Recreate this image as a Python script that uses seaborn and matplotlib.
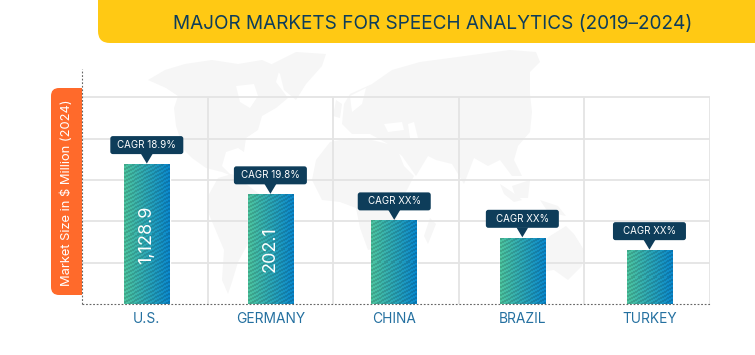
import numpy as np
import matplotlib
matplotlib.use('Agg')
import matplotlib.pyplot as plt
import matplotlib.transforms as mtrans
from matplotlib.patches import FancyBboxPatch, Polygon, Rectangle
from matplotlib.colors import LinearSegmentedColormap
import seaborn as sns

categories = ['U.S.', 'GERMANY', 'CHINA', 'BRAZIL', 'TURKEY']
bar_heights = [1128.9, 884, 673, 532, 432]
value_labels = ['1,128.9', '202.1', '', '', '']
cagr_labels = ['CAGR 18.9%', 'CAGR 19.8%', 'CAGR XX%', 'CAGR XX%', 'CAGR XX%']
grid_values = [335, 670, 1005, 1340, 1675]
grid_x = [0.5, 1.5, 2.5, 3.5, 4.5]
bar_nudge = [0.016, 0.0, -0.014, 0.006, 0.018]

title = 'MAJOR MARKETS FOR SPEECH ANALYTICS (2019–2024)'
ylabel = 'Market Size in $ Million (2024)'

navy = '#0e3d5a'
grid_col = '#e4e4e4'
map_col = '#f6f6f6'

# rough world map behind the chart, in pixels of the picture
land = [
    [(148, 80), (165, 70), (185, 64), (212, 60), (238, 64), (262, 60), (280, 68), (276, 82), (288, 98), (276, 108),
     (262, 116), (258, 130), (246, 138), (244, 152), (238, 148), (226, 152), (222, 166), (232, 176), (222, 172),
     (206, 168), (192, 158), (184, 150), (176, 126), (174, 108), (178, 96), (166, 88)],
    [(218, 178), (232, 174), (246, 184), (262, 196), (262, 214), (250, 240), (238, 262), (232, 282), (228, 294),
     (222, 280), (224, 250), (208, 212), (208, 196)],
    [(272, 64), (296, 52), (326, 54), (322, 66), (306, 84), (296, 100), (284, 90), (280, 74)],
    [(344, 104), (350, 94), (372, 84), (392, 70), (420, 62), (450, 58), (480, 54), (510, 50), (536, 52), (540, 62),
     (530, 72), (530, 94), (532, 112), (530, 132), (518, 146), (514, 160), (522, 176), (512, 176), (500, 160),
     (488, 166), (474, 158), (464, 184), (452, 164), (436, 160), (428, 156), (416, 176), (402, 156), (388, 144),
     (370, 134), (352, 134), (342, 124)],
    [(330, 142), (350, 138), (372, 140), (396, 146), (404, 166), (414, 176), (402, 200), (394, 226), (382, 246),
     (368, 250), (360, 228), (356, 208), (340, 202), (322, 200), (312, 180), (316, 160)],
    [(538, 246), (550, 236), (566, 226), (574, 234), (584, 250), (582, 266), (568, 280), (554, 270), (540, 272)],
    [(500, 184), (512, 192), (522, 200), (514, 202), (504, 194)],
    [(512, 186), (530, 180), (528, 198), (516, 198)],
    [(540, 200), (558, 206), (566, 216), (548, 212)],
    [(430, 218), (436, 224), (428, 244), (424, 236)],
    [(336, 100), (342, 104), (340, 118), (333, 116)],
]
# bays and inland seas cut out of the land
water = [
    [(236, 86), (254, 84), (258, 96), (250, 108), (240, 102)],
    [(384, 124), (402, 122), (404, 130), (388, 132)],
    [(408, 124), (414, 122), (418, 138), (410, 138)],
    [(350, 96), (366, 88), (362, 104), (352, 112)],
]

sns.set_theme(style='white')
plt.rcParams['font.family'] = ['Inter', 'DejaVu Sans']

fig = plt.figure(figsize=(7.55, 3.55), dpi=100)

# full picture layer for the map and the coloured shapes
bg = fig.add_axes([0, 0, 1, 1], zorder=0)
bg.set_xlim(0, 755)
bg.set_ylim(355, 0)
bg.axis('off')
for pts in land:
    bg.add_patch(Polygon(pts, closed=True, fc=map_col, ec='none'))
for pts in water:
    bg.add_patch(Polygon(pts, closed=True, fc='white', ec='none'))

bg.add_patch(FancyBboxPatch((110, -20), 700, 51, boxstyle='round,pad=12,rounding_size=12', fc='#ffc914', ec='none'))
bg.text(432.5, 24, title, color=navy, fontsize=13.7, ha='center', va='center')

orange = FancyBboxPatch((59, 96), 40, 191, boxstyle='round,pad=8,rounding_size=8', fc='#ff6a2b', ec='none')
bg.add_patch(orange)
orange.set_clip_path(Rectangle((51, 80), 31, 225, transform=bg.transData))
bg.text(66.5, 192.5, ylabel, color='white', fontsize=9.3, rotation=90, ha='center', va='center')

# chart
ax = fig.add_axes([82 / 755, 1 - 304 / 355, 628 / 755, 235 / 355], zorder=1)
ax.patch.set_alpha(0)
sns.barplot(x=categories, y=bar_heights, ax=ax, color='#2a9db0', width=0.3625, saturation=1)
ax.set_xlim(-0.5, 4.5)
ax.set_ylim(0, 1903)
ax.set_xlabel('')
ax.set_ylabel('')

ax.set_yticks(grid_values)
ax.set_yticklabels([])
ax.grid(True, axis='y', color=grid_col, lw=1.3, zorder=0)
ax.vlines(grid_x, 0, grid_values[-1], color=grid_col, lw=1.3, zorder=0)
ax.set_axisbelow(True)

for s in ['top', 'right']:
    ax.spines[s].set_visible(False)
for s in ['left', 'bottom']:
    ax.spines[s].set_color('#666666')
    ax.spines[s].set_linewidth(0.8)
    ax.spines[s].set_linestyle((0, (1.6, 1.6)))
    ax.spines[s].set_capstyle('butt')
ax.tick_params(axis='both', length=0)

# green to blue fill with shallow diagonal stripes
bar_cmap = LinearSegmentedColormap.from_list('bar', ['#4cc4a0', '#0a88cc'])
for bar, nudge in zip(ax.patches, bar_nudge):
    bar.set_x(bar.get_x() + nudge)
    x0, w, h = bar.get_x(), bar.get_width(), bar.get_height()
    nx, ny = 46, int(round(h / 1903 * 235))
    xx, yy = np.meshgrid(np.arange(nx), np.arange(ny))
    rgb = bar_cmap(xx / (nx - 1))[:, :, :3]
    stripes = ((yy + xx * 0.55) % 4.0) < 2.0
    rgb[stripes] = rgb[stripes] * 0.86
    ax.imshow(rgb, extent=(x0, x0 + w, 0, h), aspect='auto', origin='upper', zorder=2.5, interpolation='nearest')
    bar.set_facecolor('none')
ax.set_xlim(-0.5, 4.5)
ax.set_ylim(0, 1903)

ax.set_xticks([b.get_x() + b.get_width() / 2 for b in ax.patches])
ax.set_xticklabels(categories, fontsize=9.9, color='#2470a0')
ax.tick_params(axis='x', pad=6)

labels = ax.bar_label(ax.containers[0], labels=value_labels, label_type='center', rotation=90,
                      color='white', fontsize=13, zorder=4)

# callouts sit a fixed number of pixels above each bar
for bar, txt in zip(ax.patches, cagr_labels):
    cx = bar.get_x() + bar.get_width() / 2
    px, py = ax.transData.transform((cx, bar.get_height()))
    at = mtrans.Affine2D().translate(px, py)
    ax.add_patch(FancyBboxPatch((-34.5, 12.5), 69, 14, boxstyle='round,pad=2,rounding_size=2.5', fc=navy, ec='none',
                                transform=at, zorder=5, clip_on=False))
    ax.add_patch(Polygon([(-6, 11), (6, 11), (0, 1)], closed=True, fc=navy, ec='none', transform=at,
                         zorder=5, clip_on=False))
    ax.annotate(txt, (cx, bar.get_height()), xytext=(0, 14), textcoords='offset points', ha='center', va='center',
                color='white', fontsize=7, zorder=6)

fig.savefig('out.png', dpi=100, facecolor='white')
